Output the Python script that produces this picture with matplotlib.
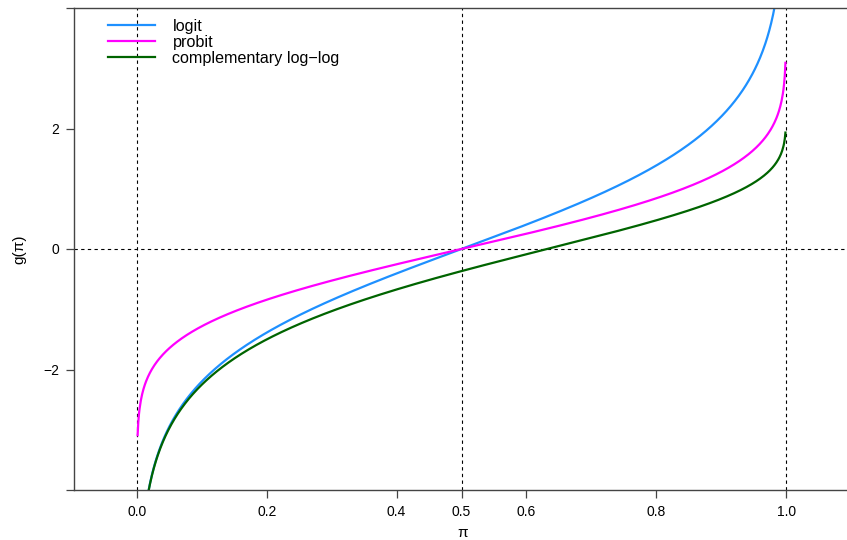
import matplotlib
matplotlib.use("Agg")
import matplotlib.pyplot as plt
import numpy as np
from statistics import NormalDist

# probabilities on which the three link functions are evaluated
pi_vals = np.linspace(0.001, 0.999, 999)

logit = np.log(pi_vals / (1 - pi_vals))
probit = np.array([NormalDist().inv_cdf(p) for p in pi_vals])
cloglog = np.log(-np.log(1 - pi_vals))

series_names = ["logit", "probit", "complementary log\u2212log"]
series_colors = ["#1E90FF", "#FF00FF", "#006400"]

x_ticks = [0.0, 0.2, 0.4, 0.5, 0.6, 0.8, 1.0]
x_tick_labels = ["0.0", "0.2", "0.4", "0.5", "0.6", "0.8", "1.0"]
y_ticks = [-4, -2, 0, 2, 4]
y_tick_labels = ["", "\u22122", "0", "2", ""]

plt.rcParams['font.family'] = ['Liberation Sans', 'DejaVu Sans']

fig = plt.figure(figsize=(8.47, 5.40), dpi=100)
ax = fig.add_axes([74/847, 50/540, 777/847, 482/540])

for y, name, col in zip([logit, probit, cloglog], series_names, series_colors):
    ax.plot(pi_vals, y, color=col, lw=1.6, label=name)

# reference lines
for xv in [0, 0.5, 1]:
    ax.axvline(xv, color="black", lw=0.8, ls=(0, (3, 3)), zorder=0)
ax.axhline(0, color="black", lw=0.8, ls=(0, (3, 3)), zorder=0)

ax.set_xlim(-0.097, 1.1)
ax.set_ylim(-4, 4)
ax.set_xticks(x_ticks)
ax.set_xticklabels(x_tick_labels)
ax.set_yticks(y_ticks)
ax.set_yticklabels(y_tick_labels)

for s in ["left", "bottom", "top"]:
    ax.spines[s].set_color("#444444")
    ax.spines[s].set_linewidth(1.0)
ax.spines["right"].set_visible(False)
ax.tick_params(axis="both", length=5.5, width=0.9, color="#444444", labelsize=10)
ax.tick_params(axis="x", pad=5.5)
ax.tick_params(axis="y", pad=5)

ax.set_xlabel("\u03c0", fontsize=11, labelpad=5)
ax.set_ylabel("g(\u03c0)", fontsize=11, labelpad=12)

leg = ax.legend(loc="upper left", bbox_to_anchor=(108/847, 1 - 19/540),
                bbox_transform=fig.transFigure, frameon=False, borderpad=0,
                borderaxespad=0, fontsize=11.6, handlelength=2.9,
                handletextpad=1.1, labelspacing=0.05)

fig.savefig("out.png", dpi=100)
